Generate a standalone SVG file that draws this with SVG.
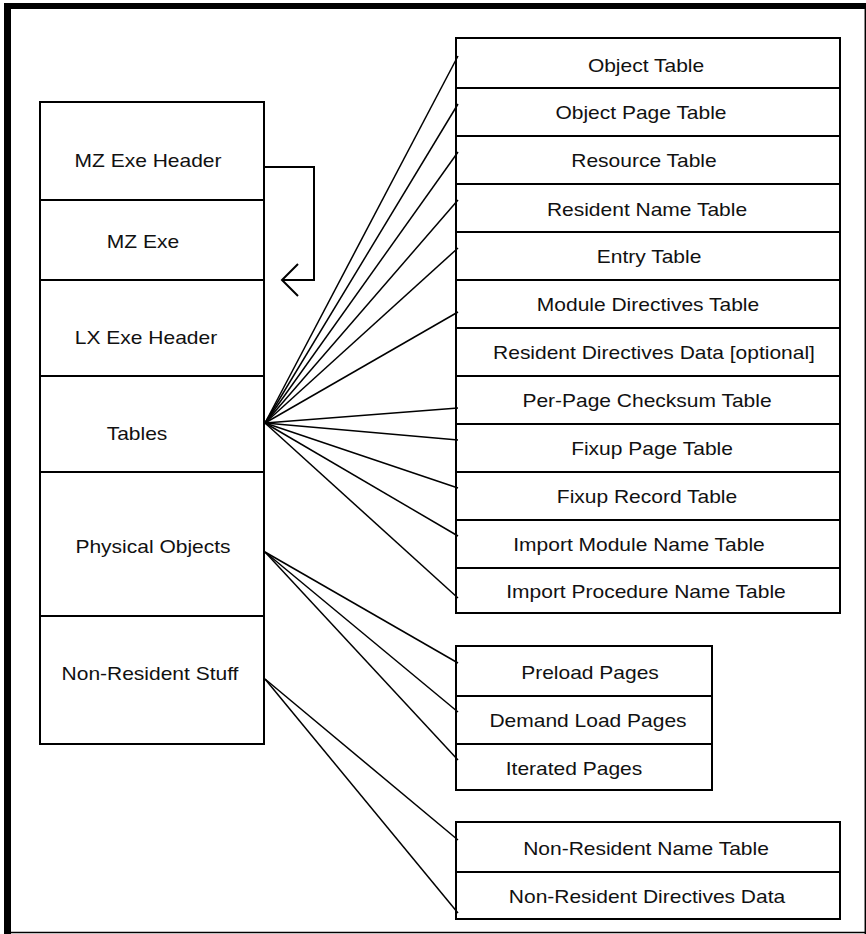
<svg xmlns="http://www.w3.org/2000/svg" width="866" height="934" viewBox="0 0 866 934">
<style>
.cell{fill:#fff;stroke:#000;stroke-width:2}
.t{font-family:"Liberation Sans",Arial,sans-serif;font-size:17.5px;fill:#111;text-anchor:middle}
.c line,.c path,.c polyline{stroke:#000;fill:none}
.fan{stroke-width:1.5}
</style>
<rect x="0" y="0" width="866" height="934" fill="#fff"/>
<g id="frame">
<rect x="4" y="3" width="7" height="931" fill="#000"/>
<rect x="4" y="3" width="862" height="6" fill="#000"/>
<line x1="4" y1="932.5" x2="866" y2="932.5" stroke="#000" stroke-width="1.5"/>
<line x1="865.3" y1="3" x2="865.3" y2="934" stroke="#000" stroke-width="1.5"/>
</g>
<g id="mz-exe-header"><rect class="cell" x="40" y="102" width="224" height="98"/><text class="t" transform="translate(148,167.3) scale(1.2,1)">MZ Exe Header</text></g>
<g id="mz-exe"><rect class="cell" x="40" y="200" width="224" height="80"/><text class="t" transform="translate(143,248.3) scale(1.2,1)">MZ Exe</text></g>
<g id="lx-exe-header"><rect class="cell" x="40" y="280" width="224" height="96"/><text class="t" transform="translate(146,344) scale(1.2,1)">LX Exe Header</text></g>
<g id="tables"><rect class="cell" x="40" y="376" width="224" height="96"/><text class="t" transform="translate(137,440) scale(1.2,1)">Tables</text></g>
<g id="physical-objects"><rect class="cell" x="40" y="472" width="224" height="144"/><text class="t" transform="translate(153,552.7) scale(1.2,1)">Physical Objects</text></g>
<g id="non-resident-stuff"><rect class="cell" x="40" y="616" width="224" height="128"/><text class="t" transform="translate(150,680) scale(1.2,1)">Non-Resident Stuff</text></g>

<g id="object-table"><rect class="cell" x="456" y="38" width="384" height="50"/><text class="t" transform="translate(646,71.7) scale(1.2,1)">Object Table</text></g>
<g id="object-page-table"><rect class="cell" x="456" y="88" width="384" height="48"/><text class="t" transform="translate(641,119.4) scale(1.2,1)">Object Page Table</text></g>
<g id="resource-table"><rect class="cell" x="456" y="136" width="384" height="48"/><text class="t" transform="translate(644,167.4) scale(1.2,1)">Resource Table</text></g>
<g id="resident-name-table"><rect class="cell" x="456" y="184" width="384" height="48"/><text class="t" transform="translate(647,215.6) scale(1.2,1)">Resident Name Table</text></g>
<g id="entry-table"><rect class="cell" x="456" y="232" width="384" height="48"/><text class="t" transform="translate(649,263.4) scale(1.2,1)">Entry Table</text></g>
<g id="module-directives-table"><rect class="cell" x="456" y="280" width="384" height="48"/><text class="t" transform="translate(648,311) scale(1.2,1)">Module Directives Table</text></g>
<g id="resident-directives-data"><rect class="cell" x="456" y="328" width="384" height="48"/><text class="t" transform="translate(654,359.3) scale(1.2,1)">Resident Directives Data [optional]</text></g>
<g id="per-page-checksum-table"><rect class="cell" x="456" y="376" width="384" height="48"/><text class="t" transform="translate(647,406.7) scale(1.2,1)">Per-Page Checksum Table</text></g>
<g id="fixup-page-table"><rect class="cell" x="456" y="424" width="384" height="48"/><text class="t" transform="translate(652,455) scale(1.2,1)">Fixup Page Table</text></g>
<g id="fixup-record-table"><rect class="cell" x="456" y="472" width="384" height="48"/><text class="t" transform="translate(647,502.7) scale(1.2,1)">Fixup Record Table</text></g>
<g id="import-module-name-table"><rect class="cell" x="456" y="520" width="384" height="48"/><text class="t" transform="translate(639,550.7) scale(1.2,1)">Import Module Name Table</text></g>
<g id="import-procedure-name-table"><rect class="cell" x="456" y="568" width="384" height="45"/><text class="t" transform="translate(646,598.3) scale(1.2,1)">Import Procedure Name Table</text></g>

<g id="preload-pages"><rect class="cell" x="456" y="646" width="256" height="50"/><text class="t" transform="translate(590,679.3) scale(1.2,1)">Preload Pages</text></g>
<g id="demand-load-pages"><rect class="cell" x="456" y="696" width="256" height="48"/><text class="t" transform="translate(588,727.3) scale(1.2,1)">Demand Load Pages</text></g>
<g id="iterated-pages"><rect class="cell" x="456" y="744" width="256" height="46"/><text class="t" transform="translate(574,775) scale(1.2,1)">Iterated Pages</text></g>

<g id="non-resident-name-table"><rect class="cell" x="456" y="822" width="384" height="50"/><text class="t" transform="translate(646,855) scale(1.2,1)">Non-Resident Name Table</text></g>
<g id="non-resident-directives-data"><rect class="cell" x="456" y="872" width="384" height="47"/><text class="t" transform="translate(647,902.7) scale(1.2,1)">Non-Resident Directives Data</text></g>

<g id="connectors" class="c">
<path d="M264,167 H314 V280 H282" stroke-width="2"/>
<polyline points="298,264 282,280 298,296" stroke-width="2"/>
<g class="fan">
<line x1="265" y1="423" x2="458" y2="56"/>
<line x1="265" y1="423" x2="458" y2="104"/>
<line x1="265" y1="423" x2="458" y2="152"/>
<line x1="265" y1="423" x2="458" y2="200"/>
<line x1="265" y1="423" x2="458" y2="248"/>
<line x1="265" y1="423" x2="458" y2="312"/>
<line x1="265" y1="423" x2="458" y2="408"/>
<line x1="265" y1="423" x2="458" y2="440"/>
<line x1="265" y1="423" x2="458" y2="488"/>
<line x1="265" y1="423" x2="458" y2="536"/>
<line x1="265" y1="423" x2="458" y2="598"/>
<line x1="265" y1="552" x2="458" y2="663"/>
<line x1="265" y1="552" x2="458" y2="712"/>
<line x1="265" y1="552" x2="458" y2="760"/>
<line x1="265" y1="679" x2="458" y2="840"/>
<line x1="265" y1="679" x2="458" y2="913"/>
</g>
</g>
</svg>
